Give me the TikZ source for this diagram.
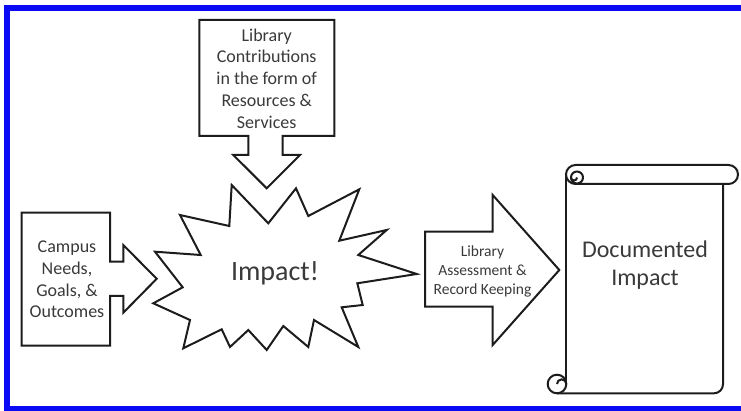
\documentclass[tikz,border=0pt]{standalone}
\usepackage{fontspec}
\setmainfont{Carlito}
\usepackage{xcolor}
\usepackage{tikz}
\usetikzlibrary{calc}
\definecolor{framex}{HTML}{0A0AF5}
\definecolor{inkx}{HTML}{1C1C1C}
\definecolor{textx}{HTML}{3A3A3A}
\tikzset{
  shp/.style={draw=inkx,line width=2pt,fill=white,line join=miter},
  txt/.style={text=textx,align=center,inner sep=0pt},
  mid/.style={font=\fontsize{18}{21.7}\selectfont},
  small/.style={font=\fontsize{15.5}{19.2}\selectfont}
}
\begin{document}
\begin{tikzpicture}[x=1pt,y=-1pt]
\useasboundingbox (0,0) rectangle (741,411);
\clip (0,0) rectangle (741,411);
\draw[framex,line width=6pt] (7,8) rectangle (760,408.5);
\draw[shp] (199.3,20) -- (334.3,20) -- (334.3,136) -- (282.7,136) -- (282.7,155) -- (300,155)
  -- (266.7,188.3) -- (233.3,155) -- (248.3,155) -- (248.3,136) -- (199.3,136) -- cycle;
\draw[shp] (21.7,212.7) -- (110,212.7) -- (110,261.7) -- (123.3,261.7) -- (123.3,245) -- (156.7,278.8)
  -- (123.3,312.7) -- (123.3,296) -- (110,296) -- (110,345.7) -- (21.7,345.7) -- cycle;
\draw[shp] (231.7,185) -- (268.3,223.3) -- (296,188.3) -- (308.3,216) -- (359.3,189.3) -- (339.3,240.7)
  -- (386.7,230) -- (358.3,255) -- (416.7,274) -- (357.3,283.3) -- (362.7,305) -- (341.7,307.3)
  -- (358.3,347) -- (314,320) -- (308.3,347) -- (283.3,326) -- (266.7,350) -- (248.3,330)
  -- (230,347) -- (221.7,329.3) -- (183.3,348.3) -- (190,320) -- (153.3,303.3) -- (182.7,287.3)
  -- (155,251.7) -- (200.7,255) -- (180,215) -- (229.3,226) -- cycle;
\draw[shp] (425,231.7) -- (492.7,231.7) -- (492.7,195) -- (559.3,270) -- (492.7,345) -- (492.7,306.7)
  -- (425,306.7) -- cycle;
\draw[shp,fill=none] (566,176) -- (566,384.5);
\draw[shp,fill=none,rounded corners=9] (557,393.3) -- (723,393.3) -- (723,184);
\draw[shp,rounded corners=9.5] (566,165) rectangle (738,184);
\draw[shp] (577,177.5) circle (6);
\draw[shp,fill=none] (571,177.5) arc[start angle=180,end angle=0,radius=3];
\draw[shp] (557,384) circle (9.3);
\draw[shp,fill=none] (566.3,384) arc[start angle=0,end angle=-180,radius=4.65];
\node[txt,mid] (libtext) at (266.7,78.5) {Library\\Contributions\\in the form of\\Resources \&\\Services};
\node[txt,mid] (campustext) at (67,279.5) {Campus\\Needs,\\Goals, \&\\Outcomes};
\node[txt,font=\fontsize{28}{33}\selectfont] (impacttext) at (275,273) {Impact!};
\node[txt,small] (assesstext) at (482.5,271.5) {Library\\Assessment \&\\Record Keeping};
\node[txt,font=\fontsize{24}{28.5}\selectfont] (doctext) at (645,265) {Documented\\Impact};
\end{tikzpicture}
\end{document}
